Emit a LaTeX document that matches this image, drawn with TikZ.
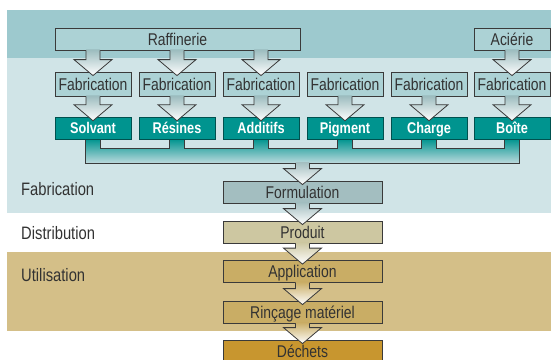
\documentclass[tikz,border=0pt]{standalone}
\usepackage{fontspec}
\setmainfont{Liberation Sans}[FakeStretch=0.82]
\usetikzlibrary{calc}

\definecolor{bandtop}{RGB}{157,201,206}
\definecolor{bandlight}{RGB}{208,228,231}
\definecolor{bandtan}{RGB}{212,191,136}
\definecolor{fabfill}{RGB}{172,210,213}
\definecolor{tealfill}{RGB}{0,148,143}
\definecolor{formfill}{RGB}{163,190,192}
\definecolor{prodfill}{RGB}{205,199,161}
\definecolor{applfill}{RGB}{201,173,101}
\definecolor{dechfill}{RGB}{200,150,47}
\definecolor{linegray}{RGB}{58,58,58}
\definecolor{textgray}{RGB}{50,50,50}

% big white arrow: from a point down into a node
\newcommand{\flowarrow}[3]{%
  \coordinate (s) at (#2.north |- #1);
  \coordinate (t) at ($(#2.north)+(0,4)$);
  \shade[top color=#3, bottom color=white]
    ($(s)+(-7,-1)$) -- ($(t)+(-7,-16)$) -- ($(t)+(-19,-16)$) -- (t)
    -- ($(t)+(19,-16)$) -- ($(t)+(7,-16)$) -- ($(s)+(7,-1)$) -- cycle;
  \draw[arrowline] ($(s)+(-7,0)$) -- ($(t)+(-7,-16)$) -- ($(t)+(-19,-16)$) -- (t)
    -- ($(t)+(19,-16)$) -- ($(t)+(7,-16)$) -- ($(s)+(7,0)$);
}

\begin{document}
\begin{tikzpicture}[x=1pt,y=-1pt]
        \tikzset{arrowline/.style = {draw=linegray, line width=0.8pt, line join=miter}}
        \tikzset{box/.style = {draw=linegray, line width=0.8pt, inner sep=0pt, text=textgray,
                               text height=12.2pt, text depth=0pt,
                               font=\fontsize{17}{17}\selectfont}}
        \tikzset{fabbox/.style = {box, fill=fabfill, minimum width=76pt, minimum height=24pt}}
        \tikzset{prodbox/.style = {box, fill=tealfill, draw=tealfill!55!black, line width=0.5pt, text=white,
                                   text height=11.1pt, font=\fontsize{15.5}{15.5}\selectfont\bfseries,
                                   minimum width=76pt, minimum height=22pt}}
        \tikzset{stagebox/.style = {box, minimum width=159pt, minimum height=22pt}}
        \tikzset{phase/.style = {anchor=west, inner sep=0pt, text=textgray, font=\fontsize{18}{18}\selectfont}}

        \useasboundingbox (0,0) rectangle (551,359);

        % bands
        \fill[bandtop] (7,10) rectangle (551,58);
        \fill[bandlight] (7,58) rectangle (551,213);
        \fill[bandtan] (7,252) rectangle (551,331);

        \node[phase] (phfab) at (21,189) {Fabrication};
        \node[phase] (phdis) at (21,233) {Distribution};
        \node[phase] (phuti) at (21,275) {Utilisation};

        % collecting bus
        \shade[top color=tealfill, middle color=tealfill!70!bandlight, bottom color=bandlight!60!bandtop]
            (85.5,139) rectangle (519.5,163);
        \foreach \a/\b in {100.5/169.5, 184.5/253.5, 268.5/337.5, 352.5/421.5, 436.5/504.5} {
            \fill[bandlight] (\a,139) rectangle (\b,148);
            \draw[arrowline] (\a,139) -- (\a,148) -- (\b,148) -- (\b,139);
        }
        \draw[arrowline] (85.5,139) -- (85.5,163) -- (519.5,163) -- (519.5,139);
        \coordinate (bus) at (302.5,163);

        % sources
        \node[box, fill=fabfill, minimum width=245pt, minimum height=22pt] (raf) at (177.5,39) {Raffinerie};
        \node[box, fill=fabfill, minimum width=76pt, minimum height=22pt] (aci) at (512,39) {Aciérie};

        \foreach \n/\x/\lab in {1/93/Solvant, 2/177/Résines, 3/261/Additifs,
                                4/345/Pigment, 5/429/Charge, 6/512/Boîte} {
            \node[fabbox] (fab\n) at (\x,84) {Fabrication};
            \node[prodbox] (prod\n) at (\x,128) {\lab};
        }

        \node[stagebox, fill=formfill] (form) at (302.5,192) {Formulation};
        \node[stagebox, fill=prodfill] (prdt) at (302.5,232) {Produit};
        \node[stagebox, fill=applfill] (appl) at (302.5,271.5) {Application};
        \node[stagebox, fill=applfill] (rinc) at (302.5,312) {Rinçage matériel};
        \node[stagebox, fill=dechfill] (dech) at (302.5,351) {Déchets};

        % arrows
        \foreach \n in {1,2,3} {\flowarrow{raf.south}{fab\n}{fabfill!85!linegray}}
        \flowarrow{aci.south}{fab6}{fabfill!85!linegray}
        \foreach \n in {1,...,6} {\flowarrow{fab\n.south}{prod\n}{fabfill!85!linegray}}

        \flowarrow{bus}{form}{formfill}
        \flowarrow{form.south}{prdt}{formfill}
        \flowarrow{prdt.south}{appl}{prodfill}
        \flowarrow{appl.south}{rinc}{applfill}
        \flowarrow{rinc.south}{dech}{applfill}

    \end{tikzpicture}
\end{document}
